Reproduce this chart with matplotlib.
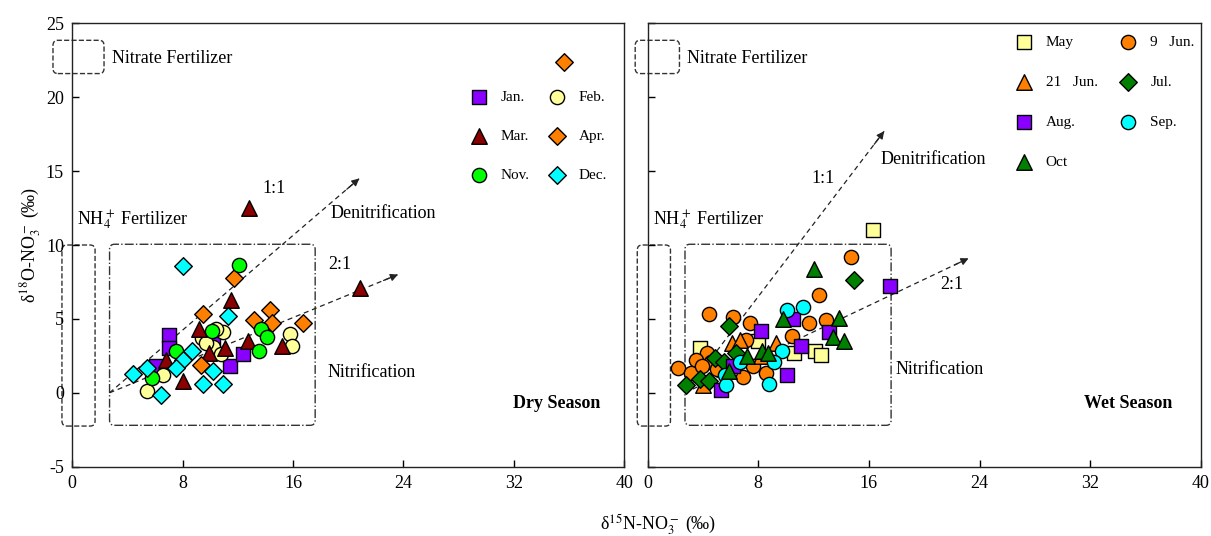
import matplotlib
matplotlib.use("Agg")
import matplotlib.pyplot as plt
from matplotlib.patches import FancyBboxPatch

plt.rcParams["font.family"] = ["Liberation Serif", "DejaVu Serif"]
plt.rcParams["mathtext.fontset"] = "stix"
plt.rcParams["axes.unicode_minus"] = False

# dry season samples (d15N, d18O)
jan_x = [7.0, 7.0, 6.1, 11.4, 12.4, 10.2]
jan_y = [3.9, 3.0, 1.8, 1.8, 2.6, 3.3]
feb_x = [15.8, 15.9, 10.9, 10.4, 9.4, 10.2, 10.8, 6.6, 5.4, 9.7]
feb_y = [4.0, 3.2, 4.1, 4.3, 3.7, 3.1, 2.6, 1.2, 0.1, 3.4]
mar_x = [12.8, 20.85, 11.5, 9.2, 12.7, 15.2, 9.9, 11.1, 6.8, 8.0]
mar_y = [12.5, 7.1, 6.3, 4.35, 3.5, 3.2, 2.7, 3.0, 2.2, 0.8]
apr_x = [11.7, 9.5, 14.3, 13.2, 14.5, 16.7, 9.3, 35.6]
apr_y = [7.75, 5.3, 5.6, 4.9, 4.7, 4.7, 1.9, 22.4]
nov_x = [12.1, 13.7, 14.1, 13.5, 10.1, 7.5, 5.75]
nov_y = [8.65, 4.3, 3.8, 2.8, 4.2, 2.8, 1.0]
dec_x = [8.0, 11.3, 8.65, 8.0, 7.5, 4.4, 5.4, 6.4, 9.5, 10.2, 10.9]
dec_y = [8.55, 5.2, 2.8, 2.2, 1.7, 1.3, 1.7, -0.15, 0.6, 1.45, 0.6]

# wet season samples
may_x = [16.3, 12.1, 12.5, 10.6, 8.0, 3.8]
may_y = [11.0, 2.86, 2.57, 2.7, 3.5, 3.0]
jun9_x = [14.7, 12.4, 11.7, 12.9, 10.4, 7.4, 6.15, 4.45, 7.1, 4.3, 3.5, 4.6,
          2.2, 3.1, 3.9, 6.9, 8.55, 7.6, 5.0]
jun9_y = [9.2, 6.6, 4.7, 4.9, 3.85, 4.75, 5.1, 5.3, 3.6, 2.7, 2.2, 2.1,
          1.7, 1.35, 1.8, 1.1, 1.35, 1.8, 1.6]
jun21_x = [6.1, 6.7, 9.3, 4.0, 8.2]
jun21_y = [3.35, 3.6, 3.35, 0.55, 2.5]
jul_x = [14.9, 5.9, 4.9, 5.5, 3.8, 4.45, 2.8, 6.4]
jul_y = [7.6, 4.5, 2.35, 2.1, 0.9, 0.8, 0.5, 2.7]
aug_x = [17.5, 10.5, 13.1, 11.1, 8.2, 10.1, 5.3, 6.2]
aug_y = [7.2, 5.0, 4.1, 3.2, 4.2, 1.2, 0.2, 1.8]
sep_x = [10.05, 11.25, 9.7, 9.1, 8.8, 5.6, 5.7, 6.7]
sep_y = [5.6, 5.8, 2.8, 2.1, 0.6, 1.2, 0.5, 2.1]
oct_x = [12.0, 9.8, 13.8, 13.4, 14.2, 8.3, 8.7, 7.2, 5.9]
oct_y = [8.4, 5.0, 5.05, 3.8, 3.5, 2.8, 2.7, 2.5, 1.45]

dry = [
    ("Jan.", jan_x, jan_y, "s", "#8A00FF"),
    ("Feb.", feb_x, feb_y, "o", "#FFFF99"),
    ("Mar.", mar_x, mar_y, "^", "#8B0000"),
    ("Apr.", apr_x, apr_y, "D", "#FF8000"),
    ("Nov.", nov_x, nov_y, "o", "#00FF00"),
    ("Dec.", dec_x, dec_y, "D", "#00FFFF"),
]
wet = [
    ("May", may_x, may_y, "s", "#FFFF99"),
    ("9   Jun.", jun9_x, jun9_y, "o", "#FF8000"),
    ("21   Jun.", jun21_x, jun21_y, "^", "#FF8000"),
    ("Jul.", jul_x, jul_y, "D", "#008000"),
    ("Aug.", aug_x, aug_y, "s", "#8A00FF"),
    ("Sep.", sep_x, sep_y, "o", "#00FFFF"),
    ("Oct", oct_x, oct_y, "^", "#008000"),
]
sizes = {"s": 95, "o": 105, "^": 125, "D": 80}

fig = plt.figure(figsize=(12.11, 5.36), dpi=100)
ax1 = fig.add_axes([0.0597, 0.1293, 0.4558, 0.8272])
ax2 = fig.add_axes([0.5348, 0.1293, 0.4569, 0.8272])


def rbox(ax, x0, y0, x1, y1, ls):
    p = FancyBboxPatch((x0, y0), x1 - x0, y1 - y0,
                       boxstyle="round,pad=0,rounding_size=0.35",
                       fill=False, ec="#333333", lw=1.0, ls=ls, clip_on=False)
    ax.add_patch(p)


def arrow(ax, start, tip):
    ax.plot([start[0], tip[0]], [start[1], tip[1]], ls=(0, (4, 3)),
            color="#222222", lw=0.9)
    dx, dy = tip[0] - start[0], tip[1] - start[1]
    ax.annotate("", xy=tip, xytext=(tip[0] - dx * 0.05, tip[1] - dy * 0.05),
                arrowprops=dict(arrowstyle="-|>", color="#222222", lw=0.9,
                                mutation_scale=11, shrinkA=0, shrinkB=0))


for ax, groups in ((ax1, dry), (ax2, wet)):
    for label, xs, ys, m, c in groups:
        ax.scatter(xs, ys, s=sizes[m], marker=m, c=c, edgecolors="black",
                   linewidths=1.0, label=label, zorder=3)
    ax.set_xlim(0, 40)
    ax.set_ylim(-5, 25)
    ax.set_xticks([0, 8, 16, 24, 32, 40])
    ax.set_yticks([-5, 0, 5, 10, 15, 20, 25])
    ax.tick_params(direction="in", length=5, width=1, labelsize=13,
                   top=False, right=False, pad=6)
    for sp in ax.spines.values():
        sp.set_linewidth(1.0)
        sp.set_color("#222222")
    rbox(ax, 2.7, -2.2, 17.6, 10.05, "-.")
    rbox(ax, -0.75, -2.25, 1.65, 10.0, "--")

ax2.tick_params(labelleft=False)

# left panel annotations
rbox(ax1, -1.4, 21.6, 2.3, 23.85, "--")
ax1.text(2.85, 22.6, "Nitrate Fertilizer", fontsize=13, va="center")
ax1.text(0.35, 11.7, r"NH$_4^+$ Fertilizer", fontsize=13, va="center")
arrow(ax1, (2.7, 0.0), (20.8, 14.5))
arrow(ax1, (2.7, 0.0), (23.6, 8.0))
ax1.text(14.6, 13.8, "1:1", fontsize=13, ha="center", va="center")
ax1.text(18.7, 12.1, "Denitrification", fontsize=13, va="center")
ax1.text(19.4, 8.65, "2:1", fontsize=13, ha="center", va="center")
ax1.text(18.5, 1.4, "Nitrification", fontsize=13, va="center")
ax1.text(38.3, -0.75, "Dry Season", fontsize=13, fontweight="bold",
          ha="right", va="center")

# right panel annotations
rbox(ax2, -0.9, 21.6, 2.3, 23.85, "--")
ax2.text(2.85, 22.6, "Nitrate Fertilizer", fontsize=13, va="center")
ax2.text(0.4, 11.7, r"NH$_4^+$ Fertilizer", fontsize=13, va="center")
arrow(ax2, (2.7, 0.0), (17.1, 17.7))
arrow(ax2, (2.7, 0.0), (23.2, 9.1))
ax2.text(12.7, 14.5, "1:1", fontsize=13, ha="center", va="center")
ax2.text(16.8, 15.8, "Denitrification", fontsize=13, va="center")
ax2.text(22.0, 7.3, "2:1", fontsize=13, ha="center", va="center")
ax2.text(17.9, 1.55, "Nitrification", fontsize=13, va="center")
ax2.text(37.9, -0.75, "Wet Season", fontsize=13, fontweight="bold",
          ha="right", va="center")

# legends, filled column by column
h, l = ax1.get_legend_handles_labels()
order = [0, 2, 4, 1, 3, 5]
ax1.legend([h[i] for i in order], [l[i] for i in order], ncol=2,
           loc="upper left", bbox_to_anchor=(0.72, 0.85), frameon=False,
           fontsize=11, handlelength=1.2, handletextpad=0.84,
           columnspacing=1.16, labelspacing=1.66, borderpad=0,
           borderaxespad=0, scatterpoints=1)
h, l = ax2.get_legend_handles_labels()
order = [0, 2, 4, 6, 1, 3, 5]
ax2.legend([h[i] for i in order], [l[i] for i in order], ncol=2,
           loc="upper left", bbox_to_anchor=(0.663, 0.972), frameon=False,
           fontsize=11, handlelength=1.2, handletextpad=0.84,
           columnspacing=1.41, labelspacing=1.72, borderpad=0,
           borderaxespad=0, scatterpoints=1)

ax1.set_ylabel("δ$^{18}$O-NO$_3^-$ (‰)", fontsize=13, labelpad=2)
fig.text(600 / 1211, 1 - 525 / 536, "δ$^{15}$N-NO$_3^-$ (‰)",
         fontsize=13, ha="left", va="center")

fig.savefig("out.png", dpi=100)
